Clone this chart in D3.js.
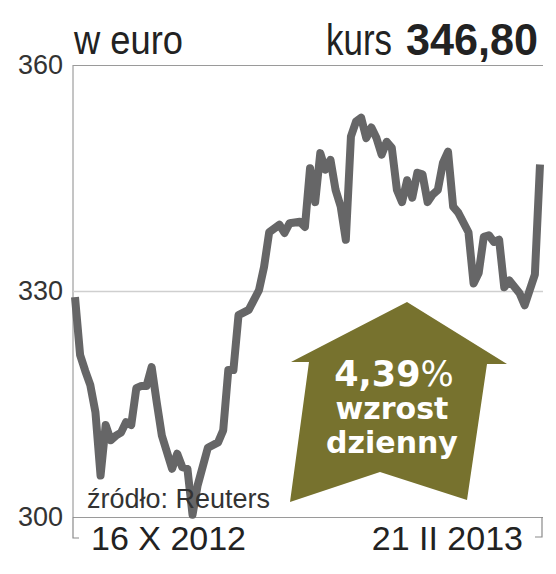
<!DOCTYPE html>
<html>
<head>
<meta charset="utf-8">
<script src="https://cdn.jsdelivr.net/npm/d3@7"></script>
<style>
  html, body { margin: 0; padding: 0; background: #fff; }
  svg { display: block; }
</style>
</head>
<body>
<svg id="chart" width="556" height="574"></svg>
<script>
// trading day index from 16 X 2012 and closing price in euro
var days = [0,1,2,3,4,5,6,7,8,9,10,11,12,13,14,15,16,17,19,20,21,22,23,24,26,28,29,30,31,32,34,36,37,38,40,41,42,44,45,46,47,48,49,50,51,52,53,54,55,56,57,58,59,60,61,62,63,64,65,66,67,68,69,70,71,72,73,74,75,77,78,79,80,81,82,83,84,85,87,88,90,91];
var prices = [329.2,321.5,319.4,317.5,313.9,305.5,312.2,310.2,310.8,311.2,312.6,312.2,317.1,317.4,317.4,319.9,315.2,310.8,
  306.4,308.4,306.6,306.4,300.3,304.2,309.2,309.9,311.5,319.5,319.5,326.8,327.5,330.1,333.2,337.8,338.8,337.7,339.0,
  339.2,338.5,346.3,341.8,348.3,346.1,347.4,343.4,341.2,336.8,350.5,352.5,353.0,350.3,351.7,350.3,348.1,349.8,349.0,
  343.4,341.8,344.7,342.4,345.7,345.5,341.8,342.8,343.4,347.0,348.5,341.2,340.4,337.8,331.0,332.4,337.2,337.4,336.5,
  336.8,330.5,331.4,329.7,328.1,332.2,346.8];
var yTicks = [300, 330, 360];
var dateLabels = ["16 X 2012", "21 II 2013"];
var unitLabel = "w euro";
var lastPrice = "346,80";
var change = "4,39";
var changeText = ["wzrost", "dzienny"];
var source = "źródło: Reuters";

var svg = d3.select("#chart");

var L = 73, R = 543, T = 65, B = 517;
var xScale = d3.scaleLinear().domain([0, 91]).range([75, 540]);
var yScale = d3.scaleLinear().domain([300, 360]).range([B, T]);

// gridlines + labels
var yAxis = d3.axisLeft(yScale).tickValues(yTicks).tickSize(-(R - L)).tickPadding(10);
var gy = svg.append("g")
    .attr("transform", "translate(" + L + ",0)")
    .call(yAxis);
gy.select(".domain").attr("stroke", "#8a8a8a").attr("d", "M0," + T + "V" + B);
gy.selectAll(".tick line")
    .attr("stroke", function(d) { return d == 330 ? "#cfcfcf" : "#9a9a9a"; })
    .attr("stroke-width", function(d) { return d == 330 ? 1.5 : 1.2; });
gy.selectAll(".tick text")
    .attr("fill", "#333")
    .style("font-family", "'Liberation Sans', Arial, sans-serif")
    .style("font-size", "27px");

// bracket below x axis
svg.append("path")
    .attr("d", "M" + L + "," + B + "V538H79")
    .attr("fill", "none").attr("stroke", "#8a8a8a").attr("stroke-width", 1.2);
svg.append("path")
    .attr("d", "M542," + B + "V537H535")
    .attr("fill", "none").attr("stroke", "#8a8a8a").attr("stroke-width", 1.2);

// price line
var pts = days.map(function(d, i) { return [d, prices[i]]; });
var lineGen = d3.line()
    .x(function(p) { return xScale(p[0]); })
    .y(function(p) { return yScale(p[1]); });
svg.append("path")
    .attr("d", lineGen(pts))
    .attr("fill", "none")
    .attr("stroke", "#666667")
    .attr("stroke-width", 8)
    .attr("stroke-linejoin", "round");

// source
svg.append("text")
    .attr("x", 87).attr("y", 508)
    .attr("fill", "#333")
    .style("font-family", "'Liberation Sans', Arial, sans-serif")
    .style("font-size", "27px")
    .text(source);

// date labels
svg.append("text")
    .attr("x", 91).attr("y", 550)
    .attr("fill", "#222")
    .style("font-family", "'Liberation Sans', Arial, sans-serif")
    .style("font-size", "34px")
    .text(dateLabels[0]);
svg.append("text")
    .attr("x", 523).attr("y", 550)
    .attr("text-anchor", "end")
    .attr("fill", "#222")
    .style("font-family", "'Liberation Sans', Arial, sans-serif")
    .style("font-size", "34px")
    .text(dateLabels[1]);

// header (narrowed to the condensed look)
svg.append("text")
    .attr("x", 74).attr("y", 54)
    .attr("fill", "#222")
    .attr("textLength", 109).attr("lengthAdjust", "spacingAndGlyphs")
    .style("font-family", "'Liberation Sans', sans-serif")
    .style("font-size", "41px")
    .text(unitLabel);
svg.append("text")
    .attr("x", 326).attr("y", 55)
    .attr("fill", "#222")
    .attr("textLength", 66).attr("lengthAdjust", "spacingAndGlyphs")
    .style("font-family", "'Liberation Sans', sans-serif")
    .style("font-size", "44px")
    .text("kurs");
svg.append("text")
    .attr("x", 538).attr("y", 55)
    .attr("text-anchor", "end")
    .attr("fill", "#222")
    .attr("textLength", 132).attr("lengthAdjust", "spacingAndGlyphs")
    .style("font-family", "'Liberation Sans', Arial, sans-serif")
    .style("font-weight", "bold")
    .style("font-size", "44px")
    .text(lastPrice);

// arrow badge
var arrow = [[407,302],[507,364],[487,364],[467,500],[380,472],[290,502],[309,362],[291,362]];
svg.append("path")
    .attr("d", d3.line()(arrow) + "Z")
    .attr("fill", "#77722e");

var ax = 394;
var t1 = svg.append("text")
    .attr("x", ax).attr("y", 386)
    .attr("text-anchor", "middle")
    .attr("fill", "#fff")
    .style("font-family", "'DejaVu Sans', sans-serif")
    .style("font-weight", "bold")
    .style("font-size", "35px");
t1.append("tspan").text(change);
t1.append("tspan").style("font-weight", "normal").text("%");
svg.selectAll("text.badge")
    .data(changeText)
    .enter().append("text")
    .attr("class", "badge")
    .attr("x", ax - 2)
    .attr("y", function(d, i) { return 419 + i * 34; })
    .attr("text-anchor", "middle")
    .attr("fill", "#fff")
    .style("font-family", "'DejaVu Sans', sans-serif")
    .style("font-weight", "bold")
    .style("font-size", "30px")
    .text(function(d) { return d; });
</script>
</body>
</html>
